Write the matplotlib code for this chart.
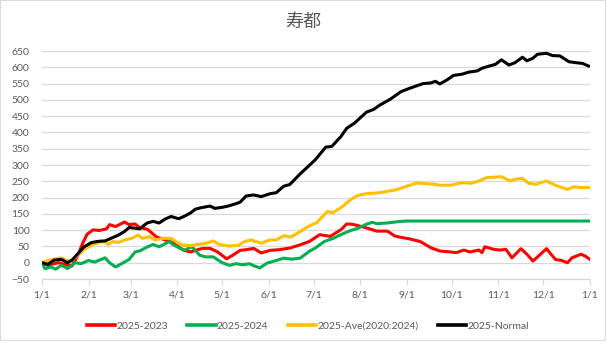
import matplotlib.pyplot as plt
from matplotlib.patches import Rectangle

# Data (day of year -> cumulative difference)
red_days = [0, 4, 8, 11, 15, 20, 24, 27, 30, 34, 38, 43, 45, 49, 55, 58, 62, 65, 70, 72, 76, 82, 87, 94, 99,
            103, 107, 112, 117, 123, 127, 132, 136, 141, 146, 152, 158, 165, 172, 178, 185, 192, 199, 203, 207,
            212, 216, 223, 230, 235, 239, 245, 252, 259, 265, 272, 276, 281, 285, 291, 293, 295, 301, 305, 309,
            313, 319, 323, 327, 332, 336, 342, 346, 350, 353, 359, 362, 365]
red_vals = [0, -8, -3, 0, -5, -10, 23, 59, 87, 101, 99, 104, 117, 111, 125, 117, 119, 108, 103, 96, 80, 70, 62, 39, 33,
            39, 44, 44, 33, 12, 23, 38, 40, 44, 30, 38, 40, 45, 55, 65, 86, 81, 101, 119, 118,
            112, 107, 97, 97, 82, 78, 73, 65, 46, 36, 33, 31, 39, 33, 39, 31, 49, 41, 39, 41,
            15, 43, 26, 5, 26, 43, 10, 7, 0, 15, 26, 20, 10]

green_days = [0, 2, 6, 9, 13, 17, 22, 26, 31, 35, 42, 45, 49, 53, 58, 62, 65, 70, 74, 78, 85, 87, 92, 95, 100,
              105, 109, 114, 120, 125, 129, 134, 138, 141, 145, 150, 154, 161, 166, 172, 178, 182, 188, 194, 199,
              205, 210, 216, 220, 223, 230, 237, 243, 270, 300, 330, 365]
green_vals = [0, -18, -13, -20, -8, -18, 0, -3, 7, 2, 15, 0, -13, -3, 10, 33, 36, 48, 56, 49, 65, 56, 44, 39, 49,
              23, 18, 18, 0, -8, -3, -6, -3, -9, -16, -1, 4, 14, 11, 14, 35, 45, 65, 75, 86,
              98, 105, 118, 124, 120, 122, 126, 128, 128, 128, 128, 128]

ave_days = [0, 4, 9, 13, 16, 20, 24, 29, 33, 38, 42, 44, 47, 51, 55, 60, 64, 67, 72, 75, 81, 86, 90, 94, 99,
            103, 109, 114, 118, 125, 131, 135, 139, 146, 152, 156, 161, 166, 172, 178, 183, 190, 194, 200, 205,
            210, 216, 223, 230, 236, 243, 250, 252, 261, 265, 272, 280, 286, 291, 296, 306, 312, 315, 320, 324,
            329, 336, 343, 350, 354, 359, 365]
ave_vals = [0, 7, 12, 15, 7, 7, 23, 44, 54, 62, 65, 56, 65, 62, 70, 75, 85, 75, 80, 70, 75, 75, 62, 54, 52,
            56, 59, 67, 56, 51, 54, 65, 70, 60, 70, 70, 83, 79, 96, 113, 123, 157, 154, 172, 192,
            206, 212, 214, 219, 224, 235, 245, 244, 241, 238, 238, 246, 244, 251, 261, 264, 251, 256, 259, 244,
            241, 251, 236, 225, 233, 231, 231]

normal_days = [0, 4, 8, 13, 17, 20, 24, 28, 33, 38, 42, 45, 51, 55, 58, 62, 65, 70, 74, 78, 82, 86, 91, 95, 99,
               102, 106, 112, 115, 120, 124, 129, 132, 136, 141, 146, 152, 156, 161, 165, 172, 176, 182, 189, 193,
               199, 203, 208, 216, 221, 225, 232, 239, 244, 250, 254, 259, 262, 265, 270, 274, 280, 284, 290,
               293, 298, 302, 306, 311, 315, 320, 323, 327, 330, 336, 340, 345, 351, 356, 360, 364]
normal_vals = [0, -5, 8, 10, 0, 8, 28, 49, 62, 66, 67, 73, 85, 96, 108, 106, 104, 122, 127, 122, 134, 142, 135, 143, 153,
               164, 169, 174, 167, 170, 174, 181, 186, 205, 208, 203, 212, 215, 235, 240, 273, 290, 316, 355, 357,
               387, 413, 428, 462, 471, 484, 502, 525, 534, 544, 550, 552, 557, 549, 562, 575, 579, 585, 589,
               597, 604, 609, 623, 607, 614, 631, 620, 628, 640, 643, 636, 635, 617, 614, 612, 604]

labels = ['2025-2023', '2025-2024', '2025-Ave(2020:2024)', '2025-Normal']
colors = ['#FF0000', '#00B050', '#FFC000', '#000000']

month_lengths = [31, 28, 31, 30, 31, 30, 31, 31, 30, 31, 30, 31]
month_labels = ['1/1', '2/1', '3/1', '4/1', '5/1', '6/1', '7/1', '8/1', '9/1', '10/1', '11/1', '12/1', '1/1']
month_starts = [0]
for m in month_lengths:
    month_starts.append(month_starts[-1] + m)

grey_text = '#595959'
grid_color = '#D9D9D9'

fig = plt.figure(figsize=(6.06, 3.41), dpi=100)
ax = fig.add_axes([0.0693, 0.1818, 0.9043, 0.6686])

series = [(red_days, red_vals), (green_days, green_vals), (ave_days, ave_vals), (normal_days, normal_vals)]
for (d, v), lab, col in zip(series, labels, colors):
    ax.plot(d, v, color=col, lw=2.2, label=lab, solid_joinstyle='round')

ax.set_xlim(0, 365)
ax.set_ylim(-50, 650)
ax.set_yticks(range(-50, 651, 50))
ax.set_xticks(month_starts)
ax.set_xticklabels(month_labels)

ax.grid(axis='y', color=grid_color, lw=0.9)
ax.set_axisbelow(True)
for side in ['top', 'right', 'left']:
    ax.spines[side].set_visible(False)
ax.spines['bottom'].set_color(grid_color)
ax.spines['bottom'].set_linewidth(0.9)

ax.tick_params(axis='y', length=0, pad=9, labelsize=7.5, labelcolor=grey_text)
ax.tick_params(axis='x', length=4, width=0.9, color=grid_color, pad=4, labelsize=7.5, labelcolor=grey_text)
for t in ax.get_xticklabels() + ax.get_yticklabels():
    t.set_family('Lato')

fig.text(0.5, 0.935, '寿都', ha='center', va='center', fontsize=13, color=grey_text,
         family=['Noto Sans CJK JP', 'DejaVu Sans'])

leg = fig.legend(loc='center', bbox_to_anchor=(0.508, 0.044), ncol=4, frameon=False,
                 handlelength=2.7, handletextpad=0.1, columnspacing=1.9,
                 prop={'family': 'Lato', 'size': 7.5})
for t in leg.get_texts():
    t.set_color(grey_text)
for h in leg.get_lines():
    h.set_linewidth(2.6)

# Outer border
fig.patches.append(Rectangle((0, 0), 1, 1, transform=fig.transFigure, fill=False,
                             edgecolor=grid_color, lw=1.5))

fig.savefig('out.png', dpi=100)
